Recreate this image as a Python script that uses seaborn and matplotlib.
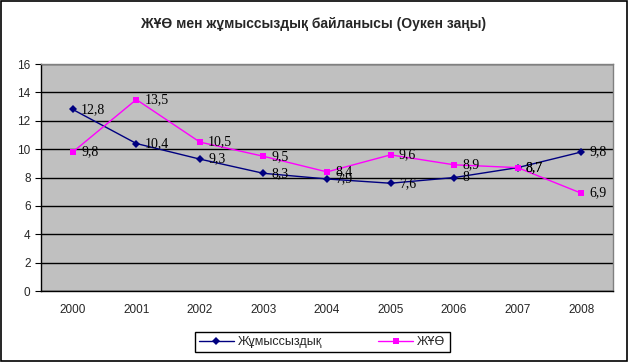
import matplotlib
matplotlib.use('Agg')
import matplotlib.pyplot as plt
import matplotlib.patches as mpatches
import pandas as pd
import seaborn as sns

years = ['2000', '2001', '2002', '2003', '2004', '2005', '2006', '2007', '2008']
unemployment = [12.8, 10.4, 9.3, 8.3, 7.9, 7.6, 8.0, 8.7, 9.8]
gdp = [9.8, 13.5, 10.5, 9.5, 8.4, 9.6, 8.9, 8.7, 6.9]
series_names = ['Жұмыссыздық', 'ЖҰӨ']

sns.set_style('white')
plt.rcParams['font.family'] = ['Liberation Sans', 'DejaVu Sans']

df = pd.DataFrame({
    'year': years * 2,
    'value': unemployment + gdp,
    'series': [series_names[0]] * len(years) + [series_names[1]] * len(years),
})

fig = plt.figure(figsize=(6.28, 3.62), dpi=100)
ax = fig.add_axes([0.0653, 0.196, 0.9107, 0.627])
ax.set_facecolor('#C0C0C0')

palette = {series_names[0]: '#000080', series_names[1]: '#FF00FF'}
markers = {series_names[0]: 'D', series_names[1]: 's'}
sns.lineplot(data=df, x='year', y='value', hue='series', style='series',
             palette=palette, markers=markers, dashes=False, linewidth=1,
             markersize=5, markeredgewidth=0, ax=ax, legend=False, sort=False)

# blue diamonds a bit smaller
for line in ax.lines:
    if line.get_marker() == 'D':
        line.set_markersize(4.5)

# data labels, decimal comma
for vals in (unemployment, gdp):
    for i, v in enumerate(vals):
        txt = ('%g' % v).replace('.', ',')
        ax.annotate(txt, (i, v), xytext=(6, 0), textcoords='offset points',
                    va='center', ha='left', fontsize=10,
                    family=['Liberation Serif', 'DejaVu Serif'], color='black')

ax.set_xlim(-0.5, len(years) - 0.5)
ax.set_ylim(0, 16)
ax.set_yticks(range(0, 17, 2))
ax.yaxis.grid(True, color='black', linewidth=1)
ax.set_axisbelow(True)
ax.set_xticks(range(len(years)))
ax.set_xticks([i - 0.5 for i in range(len(years) + 1)], minor=True)
ax.tick_params(axis='x', which='major', length=0, labelsize=8.5, pad=9)
ax.tick_params(axis='x', which='minor', length=4, direction='out', color='black')
ax.tick_params(axis='y', length=4, direction='out', labelsize=8.5, color='black', left=True)
ax.set_xlabel('')
ax.set_ylabel('')

for s in ['left', 'bottom']:
    ax.spines[s].set_color('black')
    ax.spines[s].set_linewidth(1)
for s in ['top', 'right']:
    ax.spines[s].set_color('#808080')
    ax.spines[s].set_linewidth(1)

fig.text(0.5, 0.935, 'ЖҰӨ мен жұмыссыздық байланысы (Оукен заңы)',
         ha='center', va='center', fontsize=10, fontweight='bold')

handles = [
    plt.Line2D([], [], color='#000080', marker='D', markersize=4.5, markeredgewidth=0, linewidth=1),
    plt.Line2D([], [], color='#FF00FF', marker='s', markersize=5, markeredgewidth=0, linewidth=1),
]
leg = fig.legend(handles, series_names, loc='center', bbox_to_anchor=(0.513, 0.055),
                 ncol=2, fontsize=9, frameon=True, fancybox=False, edgecolor='black',
                 framealpha=1, columnspacing=4.5, handlelength=2.8, handletextpad=0.3,
                 borderpad=0.35)
leg.get_frame().set_linewidth(1)

fig.patches.append(mpatches.Rectangle((0.001, 0.002), 0.997, 0.996, transform=fig.transFigure,
                                      fill=False, edgecolor='black', linewidth=1.2))

fig.savefig('out.png', dpi=100)
